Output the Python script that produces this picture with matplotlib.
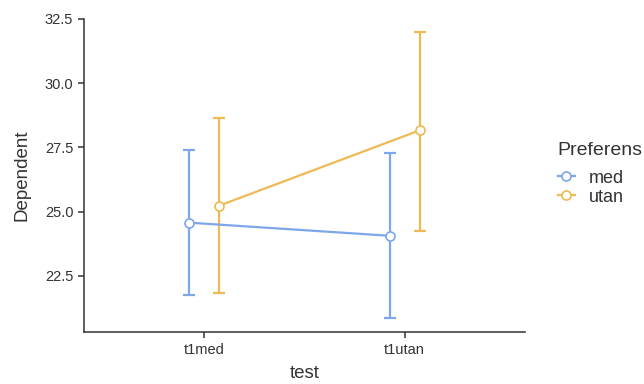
import matplotlib
matplotlib.use("Agg")
import matplotlib.pyplot as plt
from matplotlib.lines import Line2D
import numpy as np

plt.rcParams['font.family'] = ['Liberation Sans', 'DejaVu Sans']

tests = ["t1med", "t1utan"]
groups = ["med", "utan"]
means = {"med": [24.57, 24.06], "utan": [25.23, 28.16]}
lower = {"med": [21.76, 20.86], "utan": [21.84, 24.26]}
upper = {"med": [27.38, 27.27], "utan": [28.63, 32.00]}
colors = {"med": "#7DA7EA", "utan": "#EDBA55"}
offsets = {"med": -0.075, "utan": 0.075}
txt = "#333333"

fig = plt.figure(figsize=(6.44, 3.84), dpi=100)
ax = fig.add_axes([0.130, 0.135, 0.685, 0.816])

x = np.arange(1, len(tests) + 1)
for g in groups:
    xs = x + offsets[g]
    m = np.array(means[g])
    yerr = [m - np.array(lower[g]), np.array(upper[g]) - m]
    ax.errorbar(xs, m, yerr=yerr, color=colors[g], lw=1.6, capsize=4,
                capthick=1.6, fmt='none', zorder=2)
    ax.plot(xs, m, color=colors[g], lw=1.6, zorder=3)
    ax.plot(xs, m, 'o', ms=6.5, mfc='white', mec=colors[g], mew=1.2, zorder=4)

ax.set_xlim(0.4, 2.6)
ax.set_ylim(20.31, 32.5)
ax.set_xticks(x)
ax.set_xticklabels(tests)
ax.set_yticks([22.5, 25.0, 27.5, 30.0, 32.5])
ax.set_yticklabels(["22.5", "25.0", "27.5", "30.0", "32.5"])
for s in ["top", "right"]:
    ax.spines[s].set_visible(False)
for s in ["left", "bottom"]:
    ax.spines[s].set_color(txt)
    ax.spines[s].set_linewidth(1.1)
ax.tick_params(colors=txt, labelcolor=txt, labelsize=10.5,
               length=4, width=1.1)
ax.set_xlabel("test", fontsize=13.5, color=txt, labelpad=6)
ax.set_ylabel("Dependent", fontsize=13.5, color=txt, labelpad=10)

handles = [Line2D([0], [0], color=colors[g], lw=1.6, marker='o', ms=6.5,
                  mfc='white', mec=colors[g], mew=1.2) for g in groups]
fig.text(0.865, 0.609, "Preferens", fontsize=14, color=txt,
         ha="left", va="center")
leg = fig.legend(handles, groups, loc="upper left",
                 bbox_to_anchor=(0.866, 0.558), frameon=False, fontsize=13,
                 handlelength=0.95, labelspacing=0.1,
                 handletextpad=0.75, borderaxespad=0, borderpad=0)
for t in leg.get_texts():
    t.set_color(txt)

fig.savefig("out.png", dpi=100, facecolor="white")
